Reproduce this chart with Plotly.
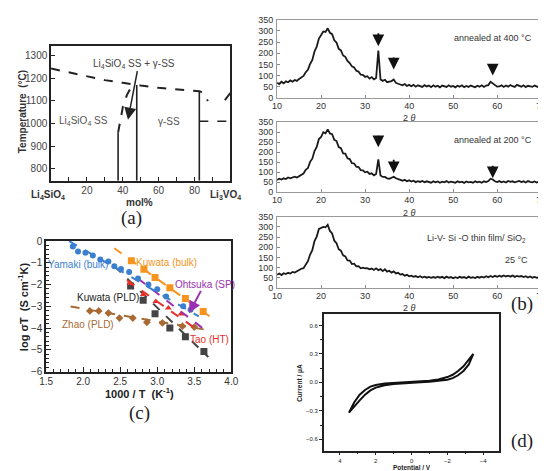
import numpy as np
import plotly.graph_objects as go

W, H = 546, 471
def px(x): return x / W
def py(y): return 1 - y / H

# ---------------- (a) phase diagram ----------------
liq_x = [0, 10, 20, 30, 40, 45.6, 50, 60, 70, 82.7, 84.5, 87.5]
liq_T = [1243, 1225, 1207, 1192, 1180, 1175, 1168, 1158, 1150, 1143, 1138, 1100]
liq2_x = [100, 96.2]
liq2_T = [1135, 1096]
solvus_x = [37.4, 38.5, 40.1, 42.3, 45.6]
solvus_T = [960, 1010, 1075, 1126, 1175]
vert_x = [37.4, 47.8, 82.7]
vert_top = [960, 1171, 1143]
hline_x = [82.7, 100]
hline_T = [1010, 1010]
a_tmin, a_tmax = 748, 1342

# ---------------- (b) XRD ----------------
two_theta = np.arange(10, 70.01, 0.5)
xrd_400 = [68, 62, 72, 65, 74, 70, 78, 72, 80, 76, 85,
           92, 98, 115, 126, 152, 170, 208, 230, 266, 280,
           298, 296, 312, 292, 286, 258, 248, 220, 213, 190,
           184, 166, 156, 141, 136, 121, 118, 104, 103, 94,
           97, 86, 93, 83, 89, 212, 82, 76, 81, 70,
           71, 75, 82, 67, 63, 59, 56, 62, 53, 58,
           52, 58, 50, 56, 53, 49, 57, 51, 55, 48,
           56, 50, 54, 47, 55, 51, 49, 56, 50, 53,
           47, 54, 50, 56, 48, 53, 49, 55, 50, 47,
           54, 50, 56, 49, 55, 57, 72, 64, 54, 50,
           51, 56, 49, 55, 50, 57, 52, 49, 58, 54,
           50, 56, 48, 54, 51, 49, 55, 50, 47, 52]
xrd_200 = [62, 68, 64, 70, 66, 74, 70, 76, 78, 74, 82,
           90, 94, 112, 121, 152, 168, 206, 226, 266, 276,
           300, 294, 314, 294, 290, 262, 256, 226, 220, 194,
           193, 170, 166, 146, 144, 128, 126, 111, 110, 100,
           103, 92, 95, 85, 92, 165, 84, 77, 77, 70,
           68, 72, 78, 70, 65, 62, 58, 63, 55, 60,
           54, 58, 51, 56, 52, 57, 50, 55, 52, 48,
           55, 50, 54, 48, 53, 50, 56, 49, 53, 51,
           48, 55, 50, 53, 47, 54, 50, 52, 48, 55,
           50, 53, 48, 55, 51, 56, 68, 64, 55, 51,
           56, 50, 54, 49, 57, 52, 55, 50, 54, 57,
           51, 55, 49, 56, 52, 50, 54, 49, 53, 50]
xrd_25 = [65, 70, 63, 72, 68, 74, 70, 78, 75, 82, 85,
          94, 97, 118, 131, 164, 185, 230, 252, 290, 294,
          300, 298, 310, 280, 268, 232, 220, 190, 183, 160,
          155, 135, 134, 117, 119, 106, 107, 96, 99, 96,
          97, 91, 95, 88, 96, 87, 92, 82, 91, 80,
          84, 75, 81, 71, 74, 65, 68, 60, 64, 57,
          60, 54, 58, 52, 57, 51, 55, 50, 54, 49,
          53, 49, 55, 50, 54, 48, 55, 49, 53, 47,
          52, 48, 54, 50, 53, 47, 55, 49, 52, 48,
          54, 50, 55, 51, 57, 52, 58, 53, 59, 54,
          60, 55, 61, 56, 60, 55, 61, 54, 59, 55,
          58, 53, 57, 51, 56, 50, 54, 49, 53, 48]
peak_pos = [33, 36.5, 59]
arrow_400 = [(297, 232), (188, 127), (157, 100)]
arrow_200 = [(290, 225), (170, 95), (140, 70)]

# ---------------- (c) conductivity ----------------
yam_x = [1.86, 1.93, 2.03, 2.13, 2.23, 2.34, 2.42, 2.51, 2.62, 2.74, 2.88, 3.0, 3.12, 3.35, 3.45]
yam_y = [-0.25, -0.48, -0.54, -0.66, -0.85, -0.94, -1.16, -1.28, -1.42, -1.72, -2.0, -2.21, -2.55, -3.0, -3.16]
yam_fit = ([1.81, 3.56], [0.0, -3.46])
kub_x = [2.65, 2.82, 2.97, 3.17, 3.38, 3.62]
kub_y = [-0.9, -1.3, -1.67, -2.15, -2.64, -3.24]
kub_fit = ([2.42, 3.74], [-0.33, -3.54])
oht_fit = ([2.74, 3.63], [-1.72, -4.05])
tao_x = [2.63, 2.81, 2.98, 3.15, 3.32]
tao_y = [-1.95, -2.45, -2.78, -3.08, -3.35]
tao_fit = ([2.59, 3.55], [-1.8, -4.1])
kup_x = [2.64, 2.81, 2.97, 3.17, 3.38, 3.63]
kup_y = [-2.07, -2.72, -3.34, -3.99, -4.4, -5.07]
kup_fit = ([2.42, 3.69], [-1.15, -5.33])
zhao_x = [2.09, 2.21, 2.34, 2.49, 2.67, 2.86, 3.07, 3.34, 3.5]
zhao_y = [-3.21, -3.21, -3.31, -3.54, -3.54, -3.73, -3.76, -3.91, -3.95]
zhao_fit = ([1.83, 3.63], [-3.01, -4.06])

# ---------------- (d) CV ----------------
cv_V = [3.5, 3.2, 2.9, 2.6, 2.3, 2.0, 1.5, 1.0, 0.5, 0, -0.5, -1.0, -1.5, -2.0, -2.3, -2.6, -2.9, -3.2, -3.45]
cv_I_upper = [-0.32, -0.21, -0.13, -0.08, -0.045, -0.027, -0.012, -0.005, 0.0, 0.003, 0.008, 0.016, 0.03, 0.056, 0.08, 0.12, 0.17, 0.24, 0.30]
cv_I_lower = [-0.32, -0.26, -0.19, -0.13, -0.085, -0.055, -0.03, -0.017, -0.01, -0.005, 0.0, 0.006, 0.014, 0.028, 0.045, 0.075, 0.12, 0.19, 0.30]

FONT = "Liberation Sans"
SERIF = "Liberation Serif"
fig = go.Figure()

# (a) traces
dash_style = dict(color="#222", width=2, dash="dash")
fig.add_trace(go.Scatter(x=liq_x, y=liq_T, mode="lines", line=dash_style, xaxis="x", yaxis="y"))
fig.add_trace(go.Scatter(x=liq2_x, y=liq2_T, mode="lines", line=dash_style, xaxis="x", yaxis="y"))
fig.add_trace(go.Scatter(x=solvus_x, y=solvus_T, mode="lines", line=dash_style, xaxis="x", yaxis="y"))
fig.add_trace(go.Scatter(x=hline_x, y=hline_T, mode="lines", line=dict(color="#222", width=1.5, dash="dash"), xaxis="x", yaxis="y"))
vx, vy = [], []
for xv, tv in zip(vert_x, vert_top):
    vx += [xv, xv, None]
    vy += [a_tmin, tv, None]
fig.add_trace(go.Scatter(x=vx, y=vy, mode="lines", line=dict(color="#222", width=1.6), xaxis="x", yaxis="y"))

# (b) traces
for i, ys in enumerate([xrd_400, xrd_200, xrd_25]):
    ax = str(i + 2)
    fig.add_trace(go.Scatter(x=two_theta, y=ys, mode="lines", line=dict(color="#1a1a1a", width=1.8),
                             xaxis="x" + ax, yaxis="y" + ax))

# (c) traces
def fit(xy, color):
    fig.add_trace(go.Scatter(x=xy[0], y=xy[1], mode="lines", line=dict(color=color, width=2, dash="dash"),
                             xaxis="x5", yaxis="y5"))
def pts(x, y, color, sym, size):
    fig.add_trace(go.Scatter(x=x, y=y, mode="markers", marker=dict(color=color, symbol=sym, size=size),
                             xaxis="x5", yaxis="y5"))
BLUE, ORANGE, PURPLE, RED, GRAY, BROWN = "#3b7fd0", "#f7941d", "#9b30b0", "#e8302a", "#444444", "#a86a35"
fit(zhao_fit, BROWN); pts(zhao_x, zhao_y, BROWN, "diamond", 6)
fit(kup_fit, GRAY); pts(kup_x, kup_y, GRAY, "square", 7)
fit(tao_fit, RED); pts(tao_x, tao_y, RED, "triangle-up", 6)
fit(oht_fit, PURPLE)
fit(yam_fit, BLUE); pts(yam_x, yam_y, BLUE, "circle", 6)
fit(kub_fit, ORANGE); pts(kub_x, kub_y, ORANGE, "square", 7)

# (d) trace
fig.add_trace(go.Scatter(x=cv_V + cv_V[::-1], y=cv_I_upper + cv_I_lower[::-1], mode="lines",
                         line=dict(color="#111", width=2), xaxis="x6", yaxis="y6"))

def dom_x(a, b): return [px(a), px(b)]
def dom_y(top, bot): return [py(bot), py(top)]

frame = dict(showline=True, mirror=True, linecolor="#222", showgrid=False, zeroline=False)
lay = dict(width=W, height=H, margin=dict(l=0, r=0, t=0, b=0), showlegend=False,
           plot_bgcolor="white", paper_bgcolor="white", font=dict(family=FONT, color="#333"))

# (a)
lay["xaxis"] = dict(domain=dom_x(37, 221), range=[0, 100], tickvals=[10, 20, 30, 40, 50, 60, 70, 80, 90],
                    ticktext=["", "20", "", "40", "", "60", "", "80", ""], ticks="inside", ticklen=4,
                    tickcolor="#222", tickfont=dict(size=10, color="#444"), linewidth=1.5, anchor="y", **frame)
lay["yaxis"] = dict(domain=dom_y(33, 171), range=[a_tmin, a_tmax], tickvals=[800, 900, 1000, 1100, 1200, 1300],
                    ticks="inside", ticklen=4, tickcolor="#222", tickfont=dict(size=10, color="#444"),
                    linewidth=1.5, anchor="x", **frame)
# (b)
b_tops = [(6, 86), (111, 183), (208, 281)]
for i, (t, b) in enumerate(b_tops):
    n = str(i + 2)
    lay["xaxis" + n] = dict(domain=dom_x(269, 540), range=[10, 70], dtick=10, ticks="inside", ticklen=3,
                            tickcolor="#888", tickfont=dict(size=9, color="#333"), linewidth=1,
                            ticklabelstandoff=-1,
                            anchor="y" + n, **{**frame, "linecolor": "#999"})
    lay["yaxis" + n] = dict(domain=dom_y(t, b), range=[0, 350], dtick=50, ticks="inside", ticklen=3,
                            tickcolor="#888", tickfont=dict(size=9, color="#333"), linewidth=1,
                            ticklabelstandoff=1,
                            anchor="x" + n, **{**frame, "linecolor": "#999"})
# (c)
lay["xaxis5"] = dict(domain=dom_x(32, 222), range=[1.5, 4.0], dtick=0.5, tickformat=".1f", ticks="inside",
                     ticklen=5, tickcolor="#222", tickfont=dict(size=10, color="#333"), linewidth=1.5,
                     minor=dict(dtick=0.1, ticks="inside", ticklen=3, tickcolor="#222"), anchor="y5", **frame)
lay["yaxis5"] = dict(domain=dom_y(233, 367), range=[-6, 0], dtick=1, ticks="inside", ticklen=5,
                     tickcolor="#222", tickfont=dict(size=10, color="#333"), linewidth=1.5,
                     minor=dict(dtick=0.2, ticks="inside", ticklen=3, tickcolor="#222"), anchor="x5", **frame)
# (d)
lay["xaxis6"] = dict(domain=dom_x(317, 497), range=[4.9, -4.9], tickvals=[4, 2, 0, -2, -4], ticks="outside",
                     ticklen=3, tickcolor="#222", tickfont=dict(size=6, color="#222", family=FONT),
                     linewidth=1.5, minor=dict(dtick=1, ticks="outside", ticklen=2, tickcolor="#222"),
                     anchor="y6", **frame)
lay["yaxis6"] = dict(domain=dom_y(308, 448), range=[-0.72, 0.72], tickvals=[-0.6, -0.3, 0, 0.3, 0.6],
                     tickformat=".1f", ticks="outside", ticklen=3, tickcolor="#222",
                     tickfont=dict(size=6, color="#222"), linewidth=1.5,
                     minor=dict(dtick=0.15, ticks="outside", ticklen=2, tickcolor="#222"), anchor="x6", **frame)
fig.update_layout(**lay)

ann = []
def paper_text(x, y, text, size=10, color="#333", bold=False, angle=0, family=FONT):
    if bold:
        text = "<b>" + text + "</b>"
    ann.append(dict(x=px(x), y=py(y), xref="paper", yref="paper", text=text, showarrow=False,
                    textangle=angle, font=dict(size=size, color=color, family=family),
                    xanchor="center", yanchor="middle"))
def data_text(xr, yr, x, y, text, size=10, color="#333"):
    ann.append(dict(x=x, y=y, xref=xr, yref=yr, text=text, showarrow=False,
                    font=dict(size=size, color=color, family=FONT), xanchor="center", yanchor="middle"))

# (a) texts
paper_text(8, 100, "Temperature  (°C)", 10, "#333", True, -90)
paper_text(128, 193, "mol%", 10, "#333", True)
paper_text(34, 186, "Li<sub>4</sub>SiO<sub>4</sub>", 10, "#333", True)
paper_text(216, 186, "Li<sub>3</sub>VO<sub>4</sub>", 10, "#333", True)
paper_text(120, 209, "(a)", 19, "#222", False, 0, SERIF)
data_text("x", "y", 46.5, 1265, "Li<sub>4</sub>SiO<sub>4</sub> SS + γ-SS", 10, "#444")
data_text("x", "y", 18.3, 1010, "Li<sub>4</sub>SiO<sub>4</sub> SS", 10, "#555")
data_text("x", "y", 65.8, 1010, "γ-SS", 10, "#555")
ann.append(dict(x=42.9, y=1017, ax=48.3, ay=1238, xref="x", yref="y", axref="x", ayref="y", text="",
                showarrow=True, arrowhead=2, arrowsize=1.6, arrowwidth=1.5, arrowcolor="#222"))

# (b) texts
for (t, b) in b_tops:
    paper_text(405, b + 21, "2 <i>θ</i>", 9, "#333")
data_text("x2", "y2", 59, 268, "annealed at 400 °C", 9, "#333")
data_text("x3", "y3", 59, 262, "annealed at 200 °C", 9, "#333")
data_text("x4", "y4", 55.2, 244, "Li-V- Si -O thin film/ SiO<sub>2</sub>", 9, "#333")
data_text("x4", "y4", 64.5, 138, "25 °C", 9, "#333")
for n, arrs in zip(["2", "3"], [arrow_400, arrow_200]):
    for xp, (tail, head) in zip(peak_pos, arrs):
        ann.append(dict(x=xp, y=head, ax=xp, ay=tail, xref="x" + n, yref="y" + n, axref="x" + n,
                        ayref="y" + n, text="", showarrow=True, arrowhead=2, arrowsize=1.3,
                        arrowwidth=1.8, arrowcolor="#111"))
paper_text(520, 298, "(b)", 19, "#222", False, 0, SERIF)

# (c) texts
paper_text(9, 300, "log σT  (S cm<sup>-1</sup>K)", 11, "#222", True, -90)
paper_text(128, 389, "1000 / T  (K<sup>-1</sup>)", 11, "#222", True)
paper_text(128, 409, "(c)", 19, "#222", False, 0, SERIF)
data_text("x5", "y5", 1.93, -1.07, "Yamaki (bulk)", 10, BLUE)
data_text("x5", "y5", 3.12, -1.0, "Kuwata (bulk)", 10, ORANGE)
data_text("x5", "y5", 3.64, -2.01, "Ohtsuka (SP)", 10, PURPLE)
data_text("x5", "y5", 2.33, -2.61, "Kuwata (PLD)", 10, "#222")
data_text("x5", "y5", 2.06, -3.84, "Zhao (PLD)", 10, BROWN)
data_text("x5", "y5", 3.71, -4.5, "Tao (HT)", 10, RED)
ann.append(dict(x=3.43, y=-3.31, ax=3.6, ay=-2.22, xref="x5", yref="y5", axref="x5", ayref="y5", text="",
                showarrow=True, arrowhead=2, arrowsize=1.2, arrowwidth=2, arrowcolor=PURPLE))

# (d) texts
paper_text(293, 378, "Current / μA", 6.5, "#222", True, -90)
paper_text(407, 465, "Potential / V", 6.5, "#222", True)
paper_text(520, 438, "(d)", 19, "#222", False, 0, SERIF)

fig.update_layout(annotations=ann)
fig.write_html("out.html")
